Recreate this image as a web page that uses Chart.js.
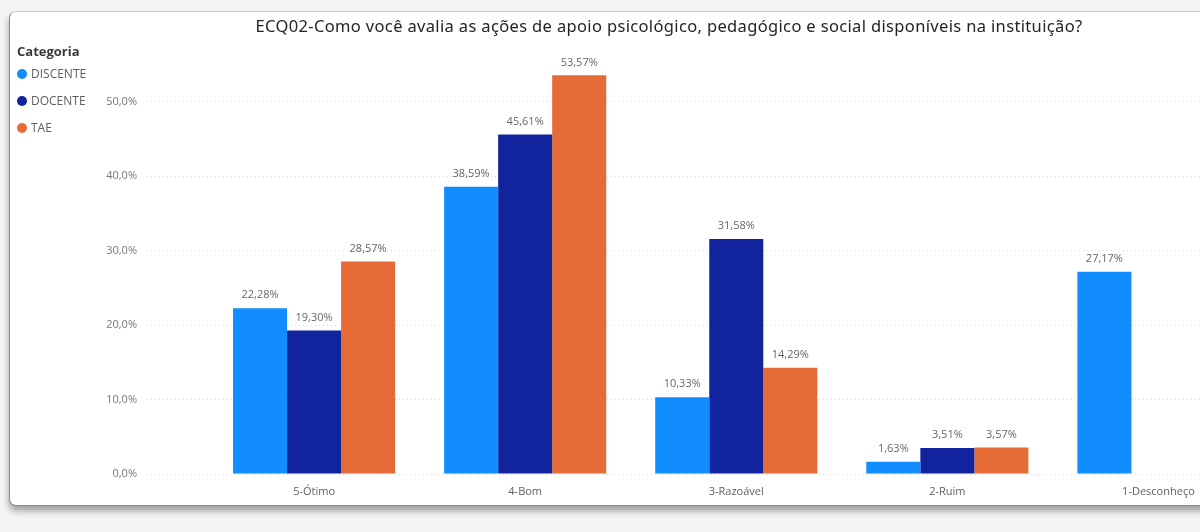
<!DOCTYPE html>
<html>
<head>
<meta charset="utf-8">
<script src="https://cdn.jsdelivr.net/npm/chart.js@4.4.1/dist/chart.umd.min.js"></script>
<style>
  html, body { margin:0; padding:0; width:1200px; height:532px; overflow:hidden; background:#f4f4f4; font-family:"Open Sans", "Noto Sans", sans-serif; }
  #frame { position:absolute; left:9px; top:11px; width:1300px; height:493px; background:#fff; border:1px solid #8a8a8a; border-top-color:#c8c8c8; border-radius:7px; box-shadow:0 5px 7px rgba(0,0,0,0.35); }
  #title { position:absolute; left:0; top:14px; width:1338px; text-align:center; font-family:"Noto Sans", sans-serif; font-size:16.5px; letter-spacing:0.35px; color:#252423; white-space:nowrap; }
  #legend { position:absolute; left:17px; top:42px; font-size:12px; color:#605E5C; }
  #legend .head { font-weight:bold; font-size:13px; color:#3b3a39; height:22px; }
  #legend .item { position:relative; height:27px; padding-left:14px; line-height:20px; }
  #legend .dot { position:absolute; left:0; top:5px; width:10px; height:10px; border-radius:50%; }
  canvas { position:absolute; left:0; top:0; }
</style>
</head>
<body>
<div id="frame"></div>
<canvas id="c" width="1270" height="532"></canvas>
<div id="title">ECQ02-Como você avalia as ações de apoio psicológico, pedagógico e social disponíveis na instituição?</div>
<div id="legend"></div>
<script>
const categories = ["5-Ótimo", "4-Bom", "3-Razoável", "2-Ruim", "1-Desconheço"];
const seriesNames = ["DISCENTE", "DOCENTE", "TAE"];
const discente = [22.28, 38.59, 10.33, 1.63, 27.17];
const docente  = [19.30, 45.61, 31.58, 3.51, null];
const tae      = [28.57, 53.57, 14.29, 3.57, null];
const yTicks   = [0, 10, 20, 30, 40, 50];
const colors   = ["#118DFF", "#12239E", "#E66C37"];

const seriesValues = [discente, docente, tae];
const fmt = (v, d) => v.toFixed(d).replace('.', ',');

// legend (real text)
const lg = document.getElementById('legend');
lg.innerHTML = '<div class="head">Categoria</div>' + seriesNames.map((n, i) =>
  `<div class="item"><span class="dot" style="background:${colors[i]}"></span>${n}</div>`).join('');

const valueLabels = {
  id: 'valueLabels',
  afterDatasetsDraw(chart) {
    const ctx = chart.ctx;
    ctx.save();
    ctx.font = '11px "Open Sans", "Noto Sans", sans-serif';
    ctx.fillStyle = '#666666';
    ctx.textAlign = 'center';
    ctx.textBaseline = 'middle';
    chart.data.datasets.forEach((ds, di) => {
      const meta = chart.getDatasetMeta(di);
      meta.data.forEach((bar, i) => {
        const v = ds.data[i].y;
        if (v === null || v === undefined) return;
        ctx.fillText(fmt(v, 2) + '%', bar.x, bar.y - 13);
      });
    });
    ctx.restore();
  }
};

new Chart(document.getElementById('c'), {
  type: 'bar',
  data: {
    datasets: seriesNames.map((n, si) => ({
      label: n,
      data: categories.map((c, i) => ({ x: i, y: seriesValues[si][i] })),
      backgroundColor: colors[si],
      borderWidth: 0,
      barPercentage: 1,
      categoryPercentage: 0.768
    }))
  },
  options: {
    responsive: false,
    animation: false,
    devicePixelRatio: 1,
    layout: { padding: { top: 61, right: 6, bottom: 0, left: 0 } },
    plugins: { legend: { display: false }, tooltip: { enabled: false }, title: { display: false } },
    scales: {
      x: {
        type: 'linear',
        min: -0.7915,
        max: 4.5,
        offset: false,
        grid: { display: false, offset: false },
        border: { display: false },
        afterFit(s) { s.height = 58; },
        afterBuildTicks(s) { s.ticks = categories.map((c, i) => ({ value: i })); },
        ticks: {
          autoSkip: false,
          maxRotation: 0,
          padding: 3,
          color: '#605E5C',
          font: { size: 11, family: '"Open Sans", "Noto Sans", sans-serif' },
          callback: (v) => categories[v] ?? ''
        }
      },
      y: {
        min: 0,
        max: 55.5,
        afterFit(s) { s.width = 147; },
        afterBuildTicks(s) { s.ticks = yTicks.map(v => ({ value: v })); },
        grid: { color: '#d9d9d9', lineWidth: 1, drawTicks: false },
        border: { display: false, dash: [1, 3] },
        ticks: {
          padding: 10,
          color: '#777777',
          font: { size: 11, family: '"Open Sans", "Noto Sans", sans-serif' },
          callback: (v) => fmt(v, 1) + '%'
        }
      }
    }
  },
  plugins: [valueLabels]
});
</script>
</body>
</html>
